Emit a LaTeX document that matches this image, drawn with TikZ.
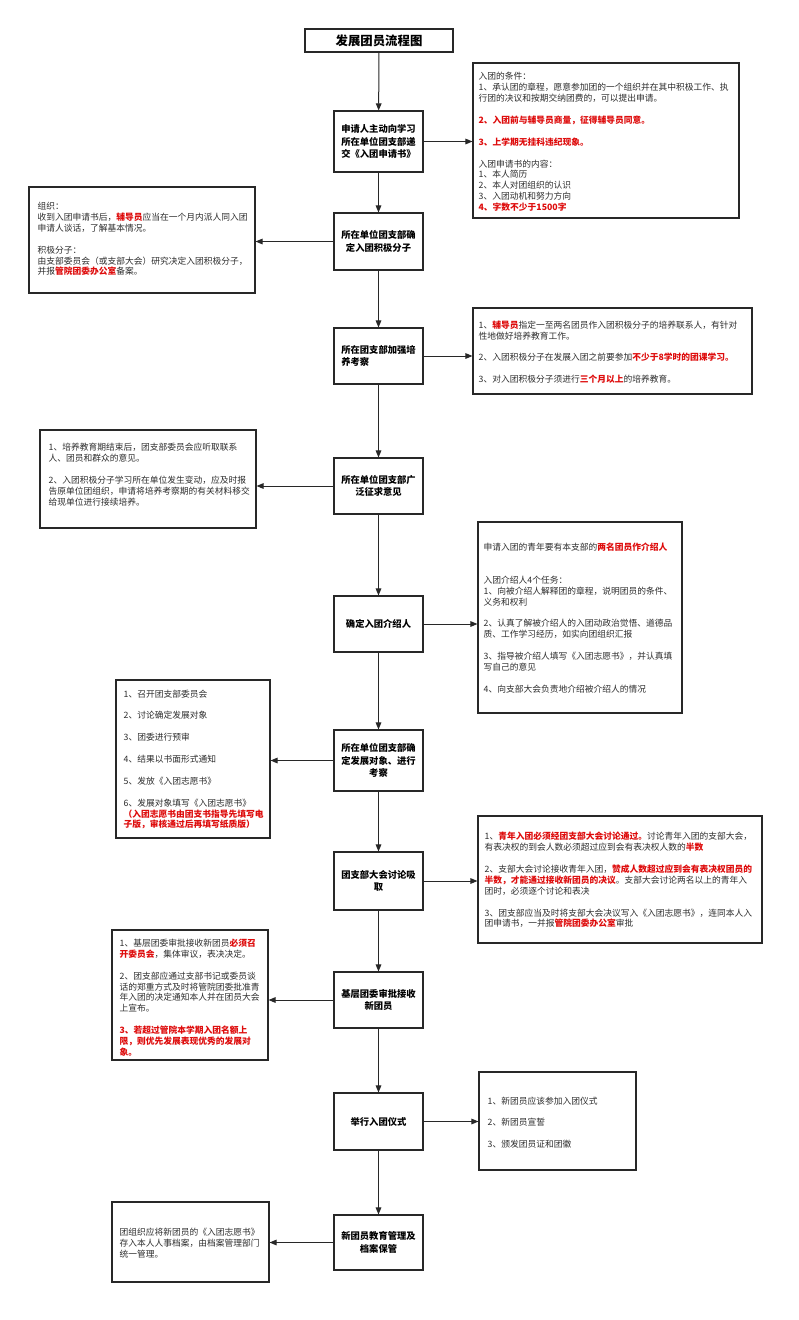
\documentclass[tikz,border=0pt]{standalone}
\usepackage{fontspec}
\setmainfont{Noto Sans CJK SC}
\usetikzlibrary{arrows.meta,calc}
\definecolor{redt}{RGB}{222,12,12}
\definecolor{boxline}{RGB}{40,40,40}
\definecolor{txt}{RGB}{45,45,45}
\newcommand\redb[1]{{\bfseries\color{redt}#1}}
\begin{document}
\begin{tikzpicture}[x=1pt,y=-1pt,
  cbox/.style={draw=boxline,line width=1.1pt,fill=white,minimum width=89pt,inner sep=0pt,
    align=center,font=\fontsize{9.3}{12.5}\selectfont\bfseries},
  sbox/.style={draw=boxline,line width=1.1pt,fill=white,inner sep=0pt},
  stext/.style={anchor=west,inner sep=0pt,align=left,text=txt,font=\fontsize{8.75}{10.9}\selectfont},
  arr/.style={draw=boxline,line width=1pt,-{Triangle[length=7pt,width=5.6pt]}}]
\useasboundingbox[fill=white] (0,0) rectangle (799,1320);
% title
\node[draw=boxline,line width=1.3pt,minimum width=148pt,minimum height=23pt,inner sep=0pt,
  font=\fontsize{12.4}{14}\selectfont\bfseries] (title) at (379,40.5) {发展团员流程图};
% center boxes
\node[cbox,minimum height=61pt] (b1) at (378.5,141.5) {申请人主动向学习\\所在单位团支部递\\交《入团申请书》};
\node[cbox,minimum height=57pt] (b2) at (378.5,241.5) {所在单位团支部确\\定入团积极分子};
\node[cbox,minimum height=56pt,align=left] (b3) at (378.5,356) {所在团支部加强培\\养考察};
\node[cbox,minimum height=56pt] (b4) at (378.5,486) {所在单位团支部广\\泛征求意见};
\node[cbox,minimum height=56pt] (b5) at (378.5,624) {确定入团介绍人};
\node[cbox,minimum height=61pt] (b6) at (378.5,760.5) {所在单位团支部确\\定发展对象、进行\\考察};
\node[cbox,minimum height=58pt] (b7) at (378.5,881) {团支部大会讨论吸\\取};
\node[cbox,minimum height=56pt] (b8) at (378.5,1000) {基层团委审批接收\\新团员};
\node[cbox,minimum height=57pt] (b9) at (378.5,1121.5) {举行入团仪式};
\node[cbox,minimum height=55pt] (b10) at (378.5,1242.5) {新团员教育管理及\\档案保管};
% vertical arrows
\draw[arr] (title) -- (b1);
\draw[arr] (b1) -- (b2);
\draw[arr] (b2) -- (b3);
\draw[arr] (b3) -- (b4);
\draw[arr] (b4) -- (b5);
\draw[arr] (b5) -- (b6);
\draw[arr] (b6) -- (b7);
\draw[arr] (b7) -- (b8);
\draw[arr] (b8) -- (b9);
\draw[arr] (b9) -- (b10);
% side boxes
\node[sbox,minimum width=266pt,minimum height=155pt] (r1) at (606,140.5) {};
\node[sbox,minimum width=226pt,minimum height=106pt] (l1) at (142,240) {};
\node[sbox,minimum width=279pt,minimum height=86pt] (r2) at (612.5,351) {};
\node[sbox,minimum width=216pt,minimum height=98pt] (l2) at (148,479) {};
\node[sbox,minimum width=204pt,minimum height=191pt] (r3) at (580,617.5) {};
\node[sbox,minimum width=154pt,minimum height=158pt] (l3) at (193,759) {};
\node[sbox,minimum width=284pt,minimum height=127pt] (r4) at (620,879.5) {};
\node[sbox,minimum width=156pt,minimum height=130pt] (l4) at (190,995) {};
\node[sbox,minimum width=157pt,minimum height=98pt] (r5) at (557.5,1121) {};
\node[sbox,minimum width=157pt,minimum height=80pt] (l5) at (190.5,1242) {};
% side arrows
\draw[arr] (b1.east) -- (b1.east -| r1.west);
\draw[arr] (b2.west) -- (b2.west -| l1.east);
\draw[arr] (b3.east) -- (b3.east -| r2.west);
\draw[arr] (b4.west) -- (b4.west -| l2.east);
\draw[arr] (b5.east) -- (b5.east -| r3.west);
\draw[arr] (b6.west) -- (b6.west -| l3.east);
\draw[arr] (b7.east) -- (b7.east -| r4.west);
\draw[arr] (b8.west) -- (b8.west -| l4.east);
\draw[arr] (b9.east) -- (b9.east -| r5.west);
\draw[arr] (b10.west) -- (b10.west -| l5.east);
% side texts
\node[stext] (r1t) at ($(r1.west)+(6,1.5)$) {入团的条件：\\
1、承认团的章程，愿意参加团的一个组织并在其中积极工作、执\\
行团的决议和按期交纳团费的，可以提出申请。\\[10.9pt]
\redb{2、入团前与辅导员商量，征得辅导员同意。}\\[10.9pt]
\redb{3、上学期无挂科违纪现象。}\\[10.9pt]
入团申请书的内容：\\
1、本人简历\\
2、本人对团组织的认识\\
3、入团动机和努力方向\\
\redb{4、字数不少于1500字}};
\node[stext] (l1t) at ($(l1.west)+(9,-1)$) {组织：\\
收到入团申请书后，\redb{辅导员}应当在一个月内派人同入团\\
申请人谈话，了解基本情况。\\[10.9pt]
积极分子：\\
由支部委员会（或支部大会）研究决定入团积极分子，\\
并报\redb{管院团委办公室}备案。};
\node[stext] (r2t) at ($(r2.west)+(6,1)$) {1、\redb{辅导员}指定一至两名团员作入团积极分子的培养联系人，有针对\\
性地做好培养教育工作。\\[10.9pt]
2、入团积极分子在发展入团之前要参加\redb{不少于8学时的团课学习。}\\[10.9pt]
3、对入团积极分子须进行\redb{三个月以上}的培养教育。};
\node[stext] (l2t) at ($(l2.west)+(9,-4.5)$) {1、培养教育期结束后，团支部委员会应听取联系\\
人、团员和群众的意见。\\[10.9pt]
2、入团积极分子学习所在单位发生变动，应及时报\\
告原单位团组织，申请将培养考察期的有关材料移交\\
给现单位进行接续培养。};
\node[stext] (r3t) at ($(r3.west)+(6,0.5)$) {申请入团的青年要有本支部的\redb{两名团员作介绍人}\\[21.8pt]
入团介绍人4个任务：\\
1、向被介绍人解释团的章程，说明团员的条件、\\
义务和权利\\[10.9pt]
2、认真了解被介绍人的入团动政治觉悟、道德品\\
质、工作学习经历，如实向团组织汇报\\[10.9pt]
3、指导被介绍人填写《入团志愿书》，并认真填\\
写自己的意见\\[10.9pt]
4、向支部大会负责地介绍被介绍人的情况};
\node[stext] (l3t) at ($(l3.west)+(8,0.5)$) {1、召开团支部委员会\\[10.9pt]
2、讨论确定发展对象\\[10.9pt]
3、团委进行预审\\[10.9pt]
4、结果以书面形式通知\\[10.9pt]
5、发放《入团志愿书》\\[10.9pt]
6、发展对象填写《入团志愿书》\\
\redb{（入团志愿书由团支书指导先填写电}\\
\redb{子版，审核通过后再填写纸质版）}};
\node[stext] (r4t) at ($(r4.west)+(7,0.5)$) {1、\redb{青年入团必须经团支部大会讨论通过。}讨论青年入团的支部大会，\\
有表决权的到会人数必须超过应到会有表决权人数的\redb{半数}\\[10.9pt]
2、支部大会讨论接收青年入团，\redb{赞成人数超过应到会有表决权团员的}\\
\redb{半数，才能通过接收新团员的决议}。支部大会讨论两名以上的青年入\\
团时，必须逐个讨论和表决\\[10.9pt]
3、团支部应当及时将支部大会决议写入《入团志愿书》，连同本人入\\
团申请书，一并报\redb{管院团委办公室}审批};
\node[stext] (l4t) at ($(l4.west)+(8,2.6)$) {1、基层团委审批接收新团员\redb{必须召}\\
\redb{开委员会}，集体审议，表决决定。\\[10.9pt]
2、团支部应通过支部书记或委员谈\\
话的郑重方式及时将管院团委批准青\\
年入团的决定通知本人并在团员大会\\
上宣布。\\[10.9pt]
\redb{3、若超过管院本学期入团名额上}\\
\redb{限，则优先发展表现优秀的发展对}\\
\redb{象。}};
\node[stext] (r5t) at ($(r5.west)+(9,1.5)$) {1、新团员应该参加入团仪式\\[10.9pt]
2、新团员宣誓\\[10.9pt]
3、颁发团员证和团徽};
\node[stext] (l5t) at ($(l5.west)+(8,1)$) {团组织应将新团员的《入团志愿书》\\
存入本人人事档案，由档案管理部门\\
统一管理。};
\end{tikzpicture}
\end{document}
